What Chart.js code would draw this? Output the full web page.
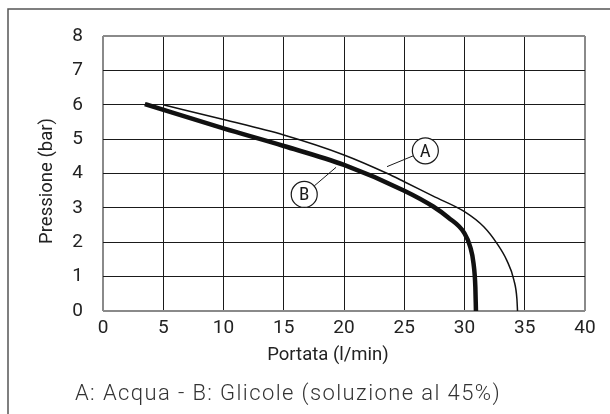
<!DOCTYPE html>
<html>
<head>
<meta charset="utf-8">
<script src="https://cdn.jsdelivr.net/npm/chart.js@4.4.1/dist/chart.umd.min.js"></script>
<style>
  body { margin: 0; background: #fff; }
  canvas { display: block; }
</style>
</head>
<body>
<canvas id="chart" width="610" height="414"></canvas>
<script>
// curve A - water
var acquaX = [5, 10, 15, 20, 23.6, 25, 27.4, 30, 31.6, 32.7, 33.5, 34.1, 34.35, 34.4];
var acquaY = [6.0, 5.57, 5.12, 4.54, 4.0, 3.76, 3.34, 2.89, 2.45, 1.96, 1.48, 0.9, 0.35, 0];
// curve B - glycol 45%
var glicoleX = [3.65, 10, 15, 20, 25, 27.4, 28.65, 30, 30.47, 30.75, 30.9, 30.95];
var glicoleY = [6.0, 5.31, 4.8, 4.25, 3.5, 3.04, 2.72, 2.26, 1.87, 1.38, 0.7, 0];

var xTicks = [0, 5, 10, 15, 20, 25, 30, 35, 40];
var yTicks = [0, 1, 2, 3, 4, 5, 6, 7, 8];

// circled labels and their leader lines
var tagNames = ['A', 'B'];
var tagX = [26.75, 16.7];
var tagY = [4.66, 3.39];
var leaderX = [23.57, 19.34];
var leaderY = [4.20, 4.18];

var caption = 'A: Acqua - B: Glicole (soluzione al 45%)';
var xTitle = 'Portata (l/min)';
var yTitle = 'Pressione (bar)';

var fam = 'Roboto, sans-serif';

function toPoints(xs, ys) {
  var pts = [];
  for (var i = 0; i < xs.length; i++) pts.push({x: xs[i], y: ys[i]});
  return pts;
}

function edgeColor(max) {
  return function(ctx) {
    var v = ctx.tick.value;
    return (v === 0 || v === max) ? '#8a8a8a' : '#1a1a1a';
  };
}
function edgeWidth(max) {
  return function(ctx) {
    var v = ctx.tick.value;
    return (v === 0 || v === max) ? 2 : 1;
  };
}

var decor = {
  id: 'decor',
  beforeDraw: function(chart) {
    var c = chart.ctx;
    c.save();
    c.strokeStyle = '#555';
    c.lineWidth = 1.5;
    c.beginPath();
    c.moveTo(8, 414);
    c.lineTo(8, 9);
    c.lineTo(610, 9);
    c.stroke();
    c.restore();
  },
  afterDatasetsDraw: function(chart) {
    var c = chart.ctx;
    var xs = chart.scales.x, ys = chart.scales.y;
    var r = 13;
    c.save();
    for (var i = 0; i < tagNames.length; i++) {
      var cx = xs.getPixelForValue(tagX[i]);
      var cy = ys.getPixelForValue(tagY[i]);
      var lx = xs.getPixelForValue(leaderX[i]);
      var ly = ys.getPixelForValue(leaderY[i]);
      var dx = lx - cx, dy = ly - cy;
      var d = Math.sqrt(dx * dx + dy * dy);
      c.strokeStyle = '#1a1a1a';
      c.lineWidth = 1;
      c.beginPath();
      c.moveTo(lx, ly);
      c.lineTo(cx + dx / d * r, cy + dy / d * r);
      c.stroke();
      c.beginPath();
      c.arc(cx, cy, r, 0, Math.PI * 2);
      c.fillStyle = '#fff';
      c.fill();
      c.lineWidth = 1.2;
      c.stroke();
      c.fillStyle = '#1a1a1a';
      c.font = 'semi-condensed 19px ' + fam;
      c.textAlign = 'center';
      c.textBaseline = 'middle';
      c.fillText(tagNames[i], cx, cy + 1);
    }
    c.fillStyle = '#222';
    c.font = '18.5px ' + fam;
    c.textAlign = 'center';
    c.textBaseline = 'middle';
    // axis titles drawn by hand, they sit off-centre in the original
    c.fillText(xTitle, 328, 355);
    c.save();
    c.translate(47, 181);
    c.rotate(-Math.PI / 2);
    c.fillText(yTitle, 0, 0);
    c.restore();

    c.font = '300 22px ' + fam;
    c.letterSpacing = '1.4px';
    c.fillStyle = '#333';
    c.textBaseline = 'alphabetic';
    c.fillText(caption, 288, 400);
    c.restore();
  }
};

new Chart(document.getElementById('chart'), {
  type: 'scatter',
  data: {
    datasets: [{
      label: 'A',
      data: toPoints(acquaX, acquaY),
      showLine: true,
      borderColor: '#111',
      borderWidth: 1.5,
      pointRadius: 0,
      cubicInterpolationMode: 'monotone',
      fill: false
    }, {
      label: 'B',
      data: toPoints(glicoleX, glicoleY),
      showLine: true,
      borderColor: '#111',
      borderWidth: 4.5,
      borderCapStyle: 'square',
      pointRadius: 0,
      cubicInterpolationMode: 'monotone',
      fill: false
    }]
  },
  options: {
    responsive: false,
    animation: false,
    devicePixelRatio: 1,
    layout: { padding: { top: 36, right: 25, left: 0, bottom: 0 } },
    plugins: {
      legend: { display: false },
      tooltip: { enabled: false }
    },
    scales: {
      x: {
        type: 'linear',
        min: 0, max: 40,
        afterBuildTicks: function(s) { s.ticks = xTicks.map(function(v) { return {value: v}; }); },
        afterFit: function(s) { s.height = 103; },
        grid: { color: edgeColor(40), lineWidth: edgeWidth(40), drawTicks: false },
        border: { display: false },
        ticks: { padding: 6, color: '#222', font: { family: fam, size: 19 } },
        title: { display: false }
      },
      y: {
        type: 'linear',
        min: 0, max: 8,
        afterBuildTicks: function(s) { s.ticks = yTicks.map(function(v) { return {value: v}; }); },
        afterFit: function(s) { s.width = 103; },
        grid: { color: edgeColor(8), lineWidth: edgeWidth(8), drawTicks: false },
        border: { display: false },
        ticks: { padding: 20, color: '#222', font: { family: fam, size: 19 } },
        title: { display: false }
      }
    }
  },
  plugins: [decor]
});
</script>
</body>
</html>
